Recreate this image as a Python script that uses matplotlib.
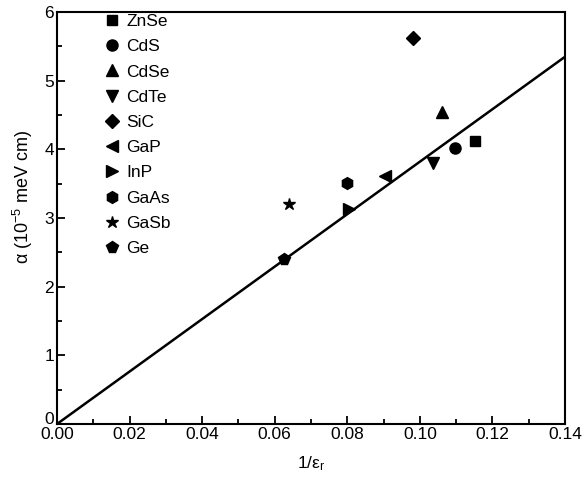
import matplotlib
matplotlib.use("Agg")
import matplotlib.pyplot as plt
import matplotlib.transforms as mtransforms
import numpy as np

plt.rcParams['font.family'] = ['Liberation Sans', 'DejaVu Sans']

materials = ["ZnSe", "CdS", "CdSe", "CdTe", "SiC", "GaP", "InP", "GaAs", "GaSb", "Ge"]
inv_eps = [0.1152, 0.1097, 0.1060, 0.1036, 0.0980, 0.0904, 0.0805, 0.0799, 0.0639, 0.0626]
alpha = [4.12, 4.02, 4.54, 3.80, 5.62, 3.61, 3.13, 3.51, 3.20, 2.40]
markers = ["s", "o", "^", "v", "D", "<", ">", "h", "*", "p"]
sizes = [7, 8, 8.5, 8.5, 7.5, 8.5, 8.5, 8.5, 9, 8.5]

fit_x = [0.0, 0.14]
fit_slope = 38.2

fig = plt.figure(figsize=(5.84, 4.79), dpi=100)
ax = fig.add_axes([0.0976, 0.1148, 0.8699, 0.8602])

ax.plot(fit_x, [fit_slope * v for v in fit_x], color="black", lw=1.8, zorder=2)
for x, y, m, n, s in zip(inv_eps, alpha, markers, materials, sizes):
    ax.plot([x], [y], linestyle="none", marker=m, color="black", markersize=s, label=n, zorder=3)

ax.set_xlim(0, 0.14)
ax.set_ylim(0, 6)
ax.set_xticks(np.arange(0, 0.141, 0.02))
ax.set_xticks(np.arange(0, 0.141, 0.01), minor=True)
ax.set_yticks(np.arange(0, 6.1, 1))
ax.set_yticks(np.arange(0, 6.1, 0.5), minor=True)
ax.set_xticklabels(["%.2f" % v for v in np.arange(0, 0.141, 0.02)])
ax.tick_params(which="both", direction="in", top=False, right=False, labelsize=12.5, width=1.3)
ax.tick_params(which="major", length=6, pad=2)
ax.tick_params(which="minor", length=3.5)
for sp in ax.spines.values():
    sp.set_linewidth(1.5)

# nudge the y "0" label up slightly so it sits just above "0.00"
ylabels0 = ax.get_yticklabels()[0]
ylabels0.set_transform(ylabels0.get_transform() +
                       mtransforms.ScaledTranslation(0, 6 / 100, fig.dpi_scale_trans))

ax.set_xlabel(r"1/$\mathregular{\varepsilon_r}$", fontsize=12.5, labelpad=9)
ax.set_ylabel(r"α (10$\mathregular{^{-5}}$ meV cm)", fontsize=13)
ax.yaxis.set_label_coords(-0.043, 0.551)

leg = ax.legend(loc="upper left", bbox_to_anchor=(0.075, 1.012), frameon=False,
                fontsize=12.5, labelspacing=0.58, handletextpad=0.2, handlelength=1.2,
                borderaxespad=0.0)

fig.savefig("out.png", dpi=100)
